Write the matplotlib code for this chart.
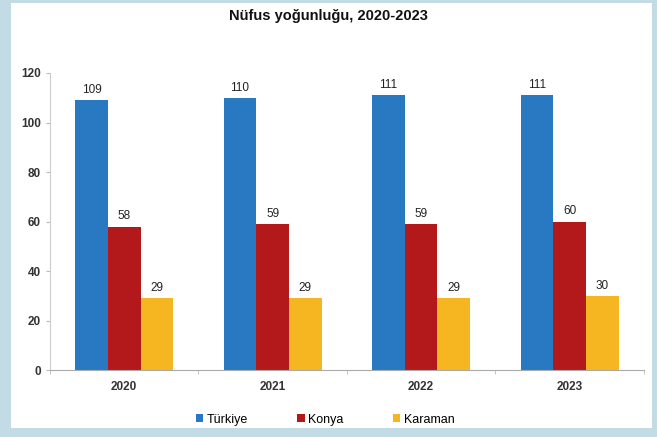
import numpy as np
import matplotlib.pyplot as plt
from matplotlib.patches import Rectangle

years = ['2020', '2021', '2022', '2023']
turkiye = [109, 110, 111, 111]
konya = [58, 59, 59, 60]
karaman = [29, 29, 29, 30]
series_names = ['Türkiye', 'Konya', 'Karaman']
colors = ['#2878c2', '#b3181b', '#f5b622']

plt.rcParams['font.family'] = ['Liberation Sans', 'DejaVu Sans']

fig = plt.figure(figsize=(6.57, 4.37), dpi=100)
fig.patch.set_facecolor('#c3dbe4')
# white panel inside the light blue frame
fig.patches.append(Rectangle((11 / 657, 9 / 437), 641 / 657, 425 / 437,
                             transform=fig.transFigure, facecolor='white',
                             edgecolor='none', zorder=-10))

ax = fig.add_axes([0.076, 0.153, 0.904, 0.68])
ax.set_facecolor('none')
ax.set_zorder(1)

x = np.arange(len(years))
w = 0.22
for i, (vals, name) in enumerate(zip([turkiye, konya, karaman], series_names)):
    bars = ax.bar(x + (i - 1) * w, vals, w, color=colors[i], label=name)
    ax.bar_label(bars, padding=3, fontsize=8.5, color='#222222')

ax.set_xlim(-0.5, len(years) - 0.5)
ax.set_ylim(0, 120)
ax.set_yticks(range(0, 121, 20))
ax.set_xticks(x)
ax.set_xticklabels(years, fontsize=8.5, fontweight='bold', color='#333333')
ax.tick_params(axis='y', labelsize=8.5, colors='#333333', length=3, color='#bbbbbb')
ax.tick_params(axis='x', length=0, pad=8)
# small ticks between categories
ax.set_xticks(np.arange(-0.5, len(years), 1), minor=True)
ax.tick_params(axis='x', which='minor', length=3, color='#bbbbbb')
for lbl in ax.get_yticklabels():
    lbl.set_fontweight('bold')

for s in ['top', 'right']:
    ax.spines[s].set_visible(False)
ax.spines['left'].set_color('#cccccc')
ax.spines['bottom'].set_color('#aaaaaa')

fig.text(0.5, 0.964, 'Nüfus yoğunluğu, 2020-2023', ha='center', va='center',
         fontsize=10.5, fontweight='bold', color='#111111')

fig.legend(loc='center', bbox_to_anchor=(0.495, 0.04), ncol=3, frameon=False,
           fontsize=9, handlelength=0.6, handleheight=0.6, handletextpad=0.3,
           columnspacing=3.9)

fig.savefig('out.png', dpi=100, facecolor=fig.get_facecolor())
